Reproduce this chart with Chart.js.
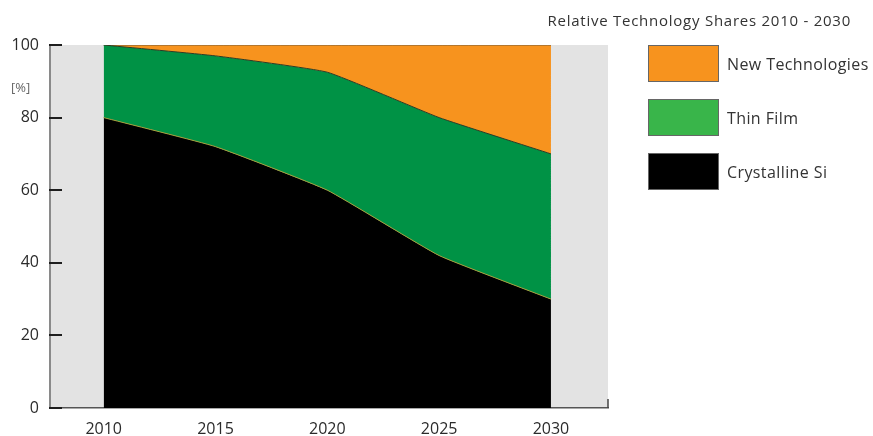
<!DOCTYPE html>
<html>
<head>
<meta charset="utf-8">
<title>Relative Technology Shares 2010 - 2030</title>
<script src="https://cdn.jsdelivr.net/npm/chart.js@4.4.1/dist/chart.umd.min.js"></script>
<style>
body { margin: 0; background: #fff; font-family: "Open Sans", sans-serif; }
#wrap { position: relative; width: 873px; height: 436px; }
#title { position: absolute; right: 22px; top: 10px; font-size: 15px; letter-spacing: 0.75px; color: #333; white-space: nowrap; }
#legend { position: absolute; left: 648px; top: 45px; list-style: none; margin: 0; padding: 0; }
#legend li { display: flex; align-items: center; height: 37px; margin-bottom: 17px; font-size: 16px; letter-spacing: 0.4px; color: #333; white-space: nowrap; }
#legend li span { display: inline-block; width: 71px; height: 37px; box-sizing: border-box; border: 1px solid #666; margin-right: 8px; }
</style>
</head>
<body>
<div id="wrap">
    <canvas id="shares"></canvas>
    <div id="title">Relative Technology Shares 2010 - 2030</div>
    <ul id="legend"></ul>
</div>
<script>
// shares in percent, stacked bottom to top
const years         = [2010, 2015, 2020, 2025, 2030];
const crystallineSi = [80, 72, 60, 42, 30];
const thinFilm      = [20, 25, 32.5, 38, 40];
const newTech       = [0, 3, 7.5, 20, 30];
const yTicks        = [0, 20, 40, 60, 80, 100];

function points(vals) {
    return years.map(function (yr, i) { return { x: yr, y: vals[i] }; });
}

// grey plot background, only visible left of 2010 and right of 2030
const plotBackground = {
    id: 'plotBackground',
    beforeDraw(chart) {
        const { ctx, chartArea: a } = chart;
        ctx.save();
        ctx.fillStyle = '#e3e3e3';
        ctx.fillRect(a.left, a.top, a.right - a.left, a.bottom - a.top);
        ctx.restore();
    }
};

// tick marks pointing into the plot, the end tick on the x axis and the [%] unit
const axisMarks = {
    id: 'axisMarks',
    afterDraw(chart) {
        const { ctx, chartArea: a, scales } = chart;
        ctx.save();
        ctx.strokeStyle = '#1e1e1e';
        ctx.lineWidth = 2;
        scales.y.ticks.forEach(function (t) {
            const py = Math.round(scales.y.getPixelForValue(t.value));
            ctx.beginPath();
            ctx.moveTo(a.left - 1, py);
            ctx.lineTo(a.left + 12, py);
            ctx.stroke();
        });
        ctx.strokeStyle = '#444';
        ctx.lineWidth = 1.5;
        ctx.beginPath();
        ctx.moveTo(a.right, a.bottom);
        ctx.lineTo(a.right, a.bottom - 9);
        ctx.stroke();

        ctx.fillStyle = '#666';
        ctx.font = '13px "Open Sans"';
        ctx.textAlign = 'left';
        ctx.textBaseline = 'middle';
        ctx.fillText('[%]', 11, a.top + 43);
        ctx.restore();
    }
};

// legend as a list, top item first
const htmlLegend = {
    id: 'htmlLegend',
    afterUpdate(chart) {
        const ul = document.getElementById('legend');
        ul.innerHTML = '';
        const items = chart.options.plugins.legend.labels.generateLabels(chart).reverse();
        items.forEach(function (item) {
            const ds = chart.data.datasets[item.datasetIndex];
            const li = document.createElement('li');
            const box = document.createElement('span');
            box.style.background = ds.legendColor || item.fillStyle;
            li.appendChild(box);
            li.appendChild(document.createTextNode(item.text));
            ul.appendChild(li);
        });
    }
};

new Chart(document.getElementById('shares'), {
    type: 'line',
    data: {
        datasets: [{
            label: 'Crystalline Si',
            data: points(crystallineSi),
            backgroundColor: '#000000',
            borderColor: '#a3a23c',
            legendColor: '#000000',
            fill: 'origin'
        }, {
            label: 'Thin Film',
            data: points(thinFilm),
            backgroundColor: '#009245',
            borderColor: '#2f3b22',
            legendColor: '#39b54a',
            fill: '-1'
        }, {
            label: 'New Technologies',
            data: points(newTech),
            backgroundColor: '#f7931e',
            borderColor: '#6e5a3c',
            legendColor: '#f7931e',
            fill: '-1'
        }]
    },
    options: {
        responsive: true,
        maintainAspectRatio: false,
        animation: false,
        layout: { padding: { top: 45, right: 265, left: 0, bottom: 0 } },
        elements: {
            point: { radius: 0 },
            line: { borderWidth: 1, tension: 0.12 }
        },
        scales: {
            x: {
                type: 'linear',
                min: 2007.6,
                max: 2032.55,
                afterBuildTicks: function (scale) {
                    scale.ticks = years.map(function (v) { return { value: v }; });
                },
                afterFit: function (scale) { scale.height = 28; },
                grid: { display: false, drawTicks: false },
                border: { display: true, color: '#555', width: 1.5 },
                ticks: {
                    padding: 12,
                    color: '#2b2b2b',
                    font: { family: 'Open Sans', size: 16 },
                    callback: function (v) { return String(v); }
                }
            },
            y: {
                stacked: true,
                min: 0,
                max: 100,
                afterBuildTicks: function (scale) {
                    scale.ticks = yTicks.map(function (v) { return { value: v }; });
                },
                afterFit: function (scale) { scale.width = 50; },
                grid: { display: false, drawTicks: false },
                border: { display: true, color: '#8a8a8a', width: 2 },
                ticks: {
                    padding: 11,
                    color: '#2b2b2b',
                    font: { family: 'Open Sans', size: 16 }
                }
            }
        },
        plugins: {
            legend: { display: false },
            tooltip: { enabled: false }
        }
    },
    plugins: [plotBackground, axisMarks, htmlLegend]
});
</script>
</body>
</html>
